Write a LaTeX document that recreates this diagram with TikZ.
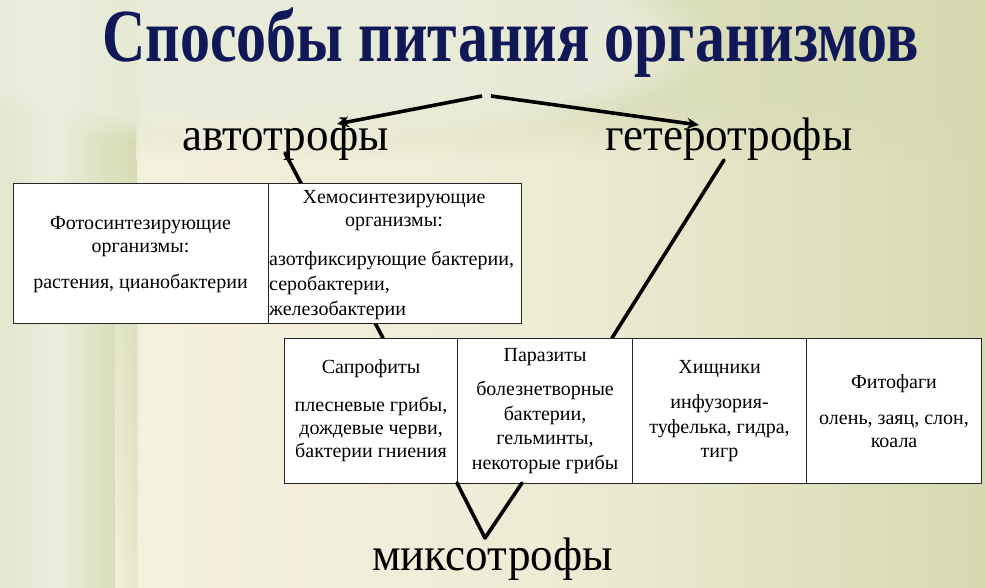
\documentclass[tikz,border=0pt]{standalone}
\usepackage{fontspec}
\usepackage{graphicx}
\setmainfont{Liberation Serif}
\usetikzlibrary{arrows.meta,fadings}
\definecolor{navy}{HTML}{101858}
\definecolor{bgL}{HTML}{E1E6CC}
\definecolor{bgR}{HTML}{D6D9B0}
\definecolor{light}{HTML}{EBEEDD}
\definecolor{cream}{HTML}{F4F0DE}
\definecolor{band}{HTML}{D2D9AE}
\tikzfading[name=fadeup, top color=transparent!100, bottom color=transparent!0]
\begin{document}
\begin{tikzpicture}[x=1pt,y=-1pt,
  cell/.style={draw=black!85,line width=1.1pt,fill=white,minimum width=#1,minimum height=0pt,inner sep=0pt},
  small/.style={font=\fontsize{20}{23}\selectfont,inner sep=0pt},
  big/.style={font=\fontsize{47}{50}\selectfont,anchor=base,inner sep=0pt},
  conn/.style={line width=3.6pt,line cap=round},
  arr/.style={line width=3.6pt,-{Stealth[length=12pt,width=11pt]}}]
\useasboundingbox (0,0) rectangle (986,588);
% background
\shade[left color=bgL,right color=bgR] (0,0) rectangle (986,588);
\shade[left color=bgL,right color=light] (0,0) rectangle (55,588);
\shade[left color=light,right color=band] (55,0) rectangle (137,588);
\fill[light,opacity=0.8,path fading=circle with fuzzy edge 20 percent] (300,40) ellipse [x radius=420pt,y radius=110pt];
\shade[left color=cream,right color=bgR,middle color=cream!80!bgR] (137,160) rectangle (986,588);
\shade[left color=cream,right color=bgR,middle color=cream!80!bgR,path fading=fadeup] (137,100) rectangle (986,161);
\shade[left color=cream,right color=cream!60!band,path fading=fadeup] (115,100) rectangle (138,588);
% texts
\node[font=\fontsize{75}{80}\selectfont\bfseries,text=navy,anchor=base,inner sep=0pt] (title) at (510.5,62) {\scalebox{0.80}[1]{Способы питания организмов}};
\node[big] (auto) at (285.5,151) {\scalebox{0.96}[1]{автотрофы}};
\node[big] (hetero) at (729,151) {\scalebox{0.96}[1]{гетеротрофы}};
\node[big] (mixo) at (492.5,570) {\scalebox{0.96}[1]{миксотрофы}};
% connector coordinates
\coordinate (apexL) at (482,96);
\coordinate (apexR) at (491,96);
\coordinate (autoT) at (337,124);
\coordinate (heteroT) at (699,125);
\coordinate (autoB) at (285,153);
\coordinate (heteroB) at (724,160);
\coordinate (mixoT) at (485,538);
% lines behind tables
\draw[conn] (autoB) -- (383,338) coordinate (saprTop);
\draw[conn] (heteroB) -- (612,338) coordinate (parTop);
% top table
\node[cell=255pt,minimum height=140pt,anchor=north west] (photo) at (13,183) {};
\node[cell=253pt,minimum height=140pt,anchor=north west] (chemo) at (268,183) {};
\node[small,align=center] (photoT) at (140.5,254.5) {Фотосинтезирующие\\организмы:\\[13pt]растения, цианобактерии};
\node[small,align=center] (chemoH) at (394,210.5) {Хемосинтезирующие\\организмы:};
\node[small,align=left,anchor=west,font=\fontsize{20}{25}\selectfont] (chemoB) at (269,285) {азотфиксирующие бактерии,\\серобактерии,\\железобактерии};
% bottom table
\node[cell=173pt,minimum height=145pt,anchor=north west] (sapr) at (284,338) {};
\node[cell=175pt,minimum height=145pt,anchor=north west] (par) at (457,338) {};
\node[cell=174pt,minimum height=145pt,anchor=north west] (pred) at (632,338) {};
\node[cell=175pt,minimum height=145pt,anchor=north west] (phyt) at (806,338) {};
\node[small,align=center] (saprT) at (sapr.center) {Сапрофиты\\[15pt]плесневые грибы,\\дождевые черви,\\бактерии гниения};
\node[small,align=center,font=\fontsize{20}{24.5}\selectfont] (parT) at (par.center) {Паразиты\\[10pt]болезнетворные\\бактерии,\\гельминты,\\некоторые грибы};
\node[small,align=center,font=\fontsize{20}{24.5}\selectfont] (predT) at (pred.center) {Хищники\\[11pt]инфузория-\\туфелька, гидра,\\тигр};
\node[small,align=center] (phytT) at (phyt.center) {Фитофаги\\[13pt]олень, заяц, слон,\\коала};
% lines to mixotrophs
\draw[conn] (457,483) -- (mixoT);
\draw[conn] (522,483) -- (mixoT);
% arrows
\draw[arr] (apexL) -- (autoT);
\draw[arr] (apexR) -- (heteroT);
\end{tikzpicture}
\end{document}
